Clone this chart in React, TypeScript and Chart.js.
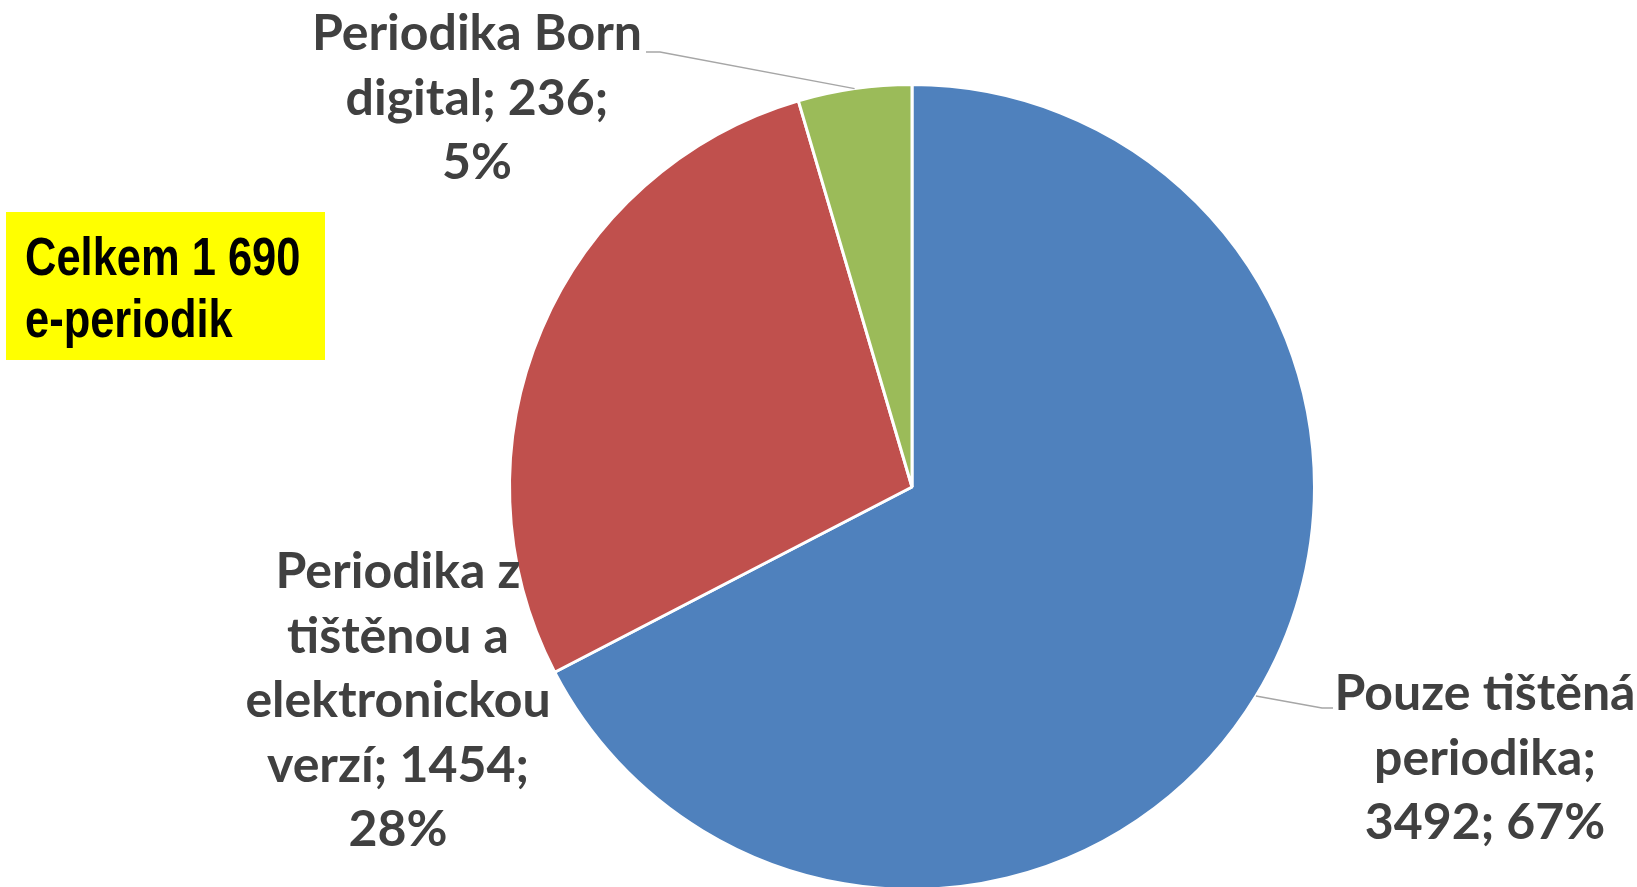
import React, { useEffect, useRef } from "react";
import { Chart, registerables } from "chart.js";

Chart.register(...registerables);

const categories = [
  "Pouze tištěná periodika",
  "Periodika z tištěnou a elektronickou verzí",
  "Periodika Born digital",
];
const values = [3492, 1454, 236];
const colors = ["#4F81BD", "#C0504D", "#9BBB59"];
// words per wrapped line of each data label
const wrapCounts = [
  [2, 1, 2],
  [2, 2, 1, 2, 1],
  [2, 2, 1],
];
const totalNote = ["Celkem 1 690", "e-periodik"];

// label layout (style): centre x, first baseline, leader elbow
const labelLayout = [
  { cx: 1485, y0: 710, leader: true, elbow: [1322, 708], end: [1333, 708] },
  { cx: 398, y0: 588, leader: false, elbow: [0, 0], end: [0, 0] },
  { cx: 477, y0: 50, leader: true, elbow: [660, 52], end: [646, 52] },
];

const LINE_H = 64.5;
const LABEL_FONT = "bold 50px Lato, 'Open Sans', sans-serif";

function wrapLabel(i: number, total: number): string[] {
  const pct = Math.round((values[i] / total) * 100);
  const words = `${categories[i]}; ${values[i]}; ${pct}%`.split(" ");
  const lines: string[] = [];
  let k = 0;
  for (const c of wrapCounts[i]) {
    lines.push(words.slice(k, k + c).join(" "));
    k += c;
  }
  return lines;
}

const labelPlugin = {
  id: "pieLabels",
  afterDatasetsDraw(chart: any) {
    const ctx = chart.ctx as CanvasRenderingContext2D;
    const meta = chart.getDatasetMeta(0);
    const total = values.reduce((a, b) => a + b, 0);
    ctx.save();
    meta.data.forEach((arc: any, i: number) => {
      const { x, y, startAngle, endAngle, outerRadius } = arc.getProps(
        ["x", "y", "startAngle", "endAngle", "outerRadius"],
        true
      );
      const mid = (startAngle + endAngle) / 2;
      const L = labelLayout[i];
      if (L.leader) {
        const ex = x + Math.cos(mid) * outerRadius;
        const ey = y + Math.sin(mid) * outerRadius;
        ctx.strokeStyle = "#A6A6A6";
        ctx.lineWidth = 1.5;
        ctx.beginPath();
        ctx.moveTo(ex, ey);
        ctx.lineTo(L.elbow[0], L.elbow[1]);
        ctx.lineTo(L.end[0], L.end[1]);
        ctx.stroke();
      }
      const lines = wrapLabel(i, total);
      ctx.fillStyle = "#404040";
      ctx.font = LABEL_FONT;
      ctx.textAlign = "center";
      ctx.textBaseline = "alphabetic";
      lines.forEach((ln, j) => {
        ctx.fillText(ln, L.cx, L.y0 + j * LINE_H);
      });
    });
    // yellow total box
    ctx.fillStyle = "#FFFF00";
    ctx.fillRect(6, 212, 319, 148);
    ctx.fillStyle = "#000000";
    ctx.font = "bold 53px 'Liberation Sans', Arial, sans-serif";
    ctx.textAlign = "left";
    ctx.save();
    ctx.translate(25, 0);
    ctx.scale(0.82, 1);
    ctx.fillText(totalNote[0], 0, 275);
    ctx.fillText(totalNote[1], 0, 337);
    ctx.restore();
    ctx.restore();
  },
};

export default function App() {
  const ref = useRef<HTMLCanvasElement | null>(null);
  useEffect(() => {
    document.body.style.margin = "0";
    if (!ref.current) return;
    const chart = new Chart(ref.current, {
      type: "pie",
      data: {
        labels: categories,
        datasets: [
          {
            data: values,
            backgroundColor: colors,
            borderColor: "#FFFFFF",
            borderWidth: 3,
          },
        ],
      },
      options: {
        responsive: false,
        animation: false,
        layout: { padding: { left: 508, right: 321, top: 83, bottom: 9 } },
        plugins: {
          legend: { display: false },
          tooltip: { enabled: false },
        },
      },
      plugins: [labelPlugin],
    });
    return () => chart.destroy();
  }, []);
  return (
    <div style={{ position: "absolute", left: 0, top: 0, width: 1637, height: 887, overflow: "hidden", background: "#fff" }}>
      <canvas ref={ref} width={1637} height={900} style={{ display: "block" }} />
    </div>
  );
}
